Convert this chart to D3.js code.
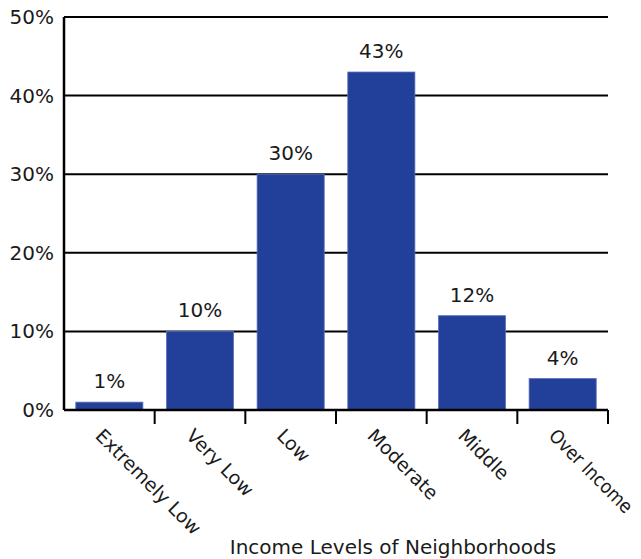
<!DOCTYPE html>
<html>
<head>
<meta charset="utf-8">
<script src="https://cdn.jsdelivr.net/npm/d3@7"></script>
<style>
  body { margin: 0; background: #fff; }
  text { font-family: "DejaVu Sans", "Liberation Sans", Arial, sans-serif; fill: #1a1a1a; }
</style>
</head>
<body>
<div id="chart"></div>
<script>
const categories = ["Extremely Low", "Very Low", "Low", "Moderate", "Middle", "Over Income"];
const shares = [1, 10, 30, 43, 12, 4];
const yTicks = [0, 10, 20, 30, 40, 50];

const width = 641, height = 559;
const margin = { top: 17, right: 33, bottom: 149, left: 64 };

const svg = d3.select("#chart")
    .append("svg")
    .attr("width", width)
    .attr("height", height);

const g = svg.append("g")
    .attr("transform", `translate(${margin.left}, ${margin.top})`);

const innerW = width - margin.left - margin.right;
const innerH = height - margin.top - margin.bottom;

const x = d3.scaleBand()
    .domain(categories)
    .range([0, innerW])
    .paddingInner(0.26)
    .paddingOuter(0.13);

const y = d3.scaleLinear()
    .domain([0, 50])
    .range([innerH, 0]);

// gridlines
g.selectAll(".grid")
    .data(yTicks)
    .join("line")
    .attr("x1", 0)
    .attr("x2", innerW)
    .attr("y1", d => y(d))
    .attr("y2", d => y(d))
    .attr("stroke", "#000")
    .attr("stroke-width", 2);

// y tick labels
g.selectAll(".ylab")
    .data(yTicks)
    .join("text")
    .attr("x", -10)
    .attr("y", d => y(d) + 7)
    .attr("text-anchor", "end")
    .attr("font-size", 20)
    .text(d => d + "%");

// bars
g.selectAll(".bar")
    .data(shares)
    .join("rect")
    .attr("x", (d, i) => x(categories[i]))
    .attr("y", d => y(d))
    .attr("width", x.bandwidth())
    .attr("height", d => innerH - y(d))
    .attr("fill", "#22409a")
    .attr("stroke", "#5b70b8")
    .attr("stroke-width", 0.8);

// value labels
g.selectAll(".val")
    .data(shares)
    .join("text")
    .attr("x", (d, i) => x(categories[i]) + x.bandwidth() / 2)
    .attr("y", d => y(d) - 14)
    .attr("text-anchor", "middle")
    .attr("font-size", 20)
    .text(d => d + "%");

// axes lines
g.append("line")
    .attr("x1", 0).attr("x2", 0)
    .attr("y1", 0).attr("y2", innerH)
    .attr("stroke", "#000").attr("stroke-width", 2.5);

g.append("line")
    .attr("x1", 0).attr("x2", innerW)
    .attr("y1", innerH).attr("y2", innerH)
    .attr("stroke", "#000").attr("stroke-width", 2.5);

// ticks between categories
const step = x.step();
g.selectAll(".tick")
    .data(d3.range(1, categories.length + 1))
    .join("line")
    .attr("x1", i => i * step)
    .attr("x2", i => i * step)
    .attr("y1", innerH)
    .attr("y2", innerH + 14)
    .attr("stroke", "#000")
    .attr("stroke-width", 2);

// category labels, rotated 45deg
const labelX = d => x(d) + x.bandwidth() / 2 - 15;
g.selectAll(".cat")
    .data(categories)
    .join("text")
    .attr("transform", d => `translate(${labelX(d)}, ${innerH + 27}) rotate(45)`)
    .attr("text-anchor", "start")
    .attr("font-size", 19)
    .text(d => d)
    .each(function (d) {
        // squeeze a label a little if it would run off the right edge
        const len = this.getComputedTextLength();
        const maxLen = (width - 2 - margin.left - labelX(d) - 14) / Math.SQRT1_2;
        if (len > maxLen) {
            d3.select(this).attr("textLength", maxLen).attr("lengthAdjust", "spacingAndGlyphs");
        }
    });

// axis title
svg.append("text")
    .attr("x", 393)
    .attr("y", 554)
    .attr("text-anchor", "middle")
    .attr("font-size", 20)
    .text("Income Levels of Neighborhoods");
</script>
</body>
</html>
